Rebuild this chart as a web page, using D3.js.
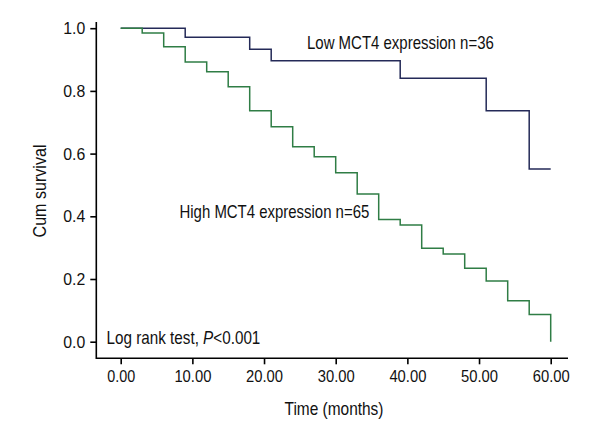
<!DOCTYPE html>
<html><head><meta charset="utf-8">
<script src="https://cdn.jsdelivr.net/npm/d3@7"></script>
<style>
html,body{margin:0;padding:0;background:#fff;}
text{font-family:"Liberation Sans",Arial,sans-serif;fill:#111;}
</style></head>
<body>
<svg id="chart" width="600" height="440"></svg>
<script>
// Data
const xTicks = [0, 10, 20, 30, 40, 50, 60];
const yTicks = [0.0, 0.2, 0.4, 0.6, 0.8, 1.0];
const lowTimes  = [0, 9, 18, 21, 39, 51, 57, 60];
const lowSurv   = [1.0, 0.971, 0.933, 0.896, 0.840, 0.737, 0.551, 0.551];
const highTimes = [0, 3, 6, 9, 12, 15, 18, 21, 24, 27, 30, 33, 36, 39, 42, 45, 48, 51, 54, 57, 60];
const highSurv  = [1.0, 0.985, 0.941, 0.892, 0.861, 0.813, 0.737, 0.686, 0.622, 0.590, 0.539, 0.471, 0.390, 0.372, 0.298, 0.280, 0.234, 0.194, 0.131, 0.087, 0.0];
const lowLabel = "Low MCT4 expression n=36";
const highLabel = "High MCT4 expression n=65";

const svg = d3.select("#chart");
const x = d3.scaleLinear().domain([0, 60]).range([120.7, 550.7]);
const y = d3.scaleLinear().domain([0, 1]).range([341.7, 28.2]);
const xAxisY = 358.3, yAxisX = 96.3;
const FS = "18px", TFS = "17px";

// horizontal squeeze helper (condensed look)
function squeeze(node, target) {
  const w = node.getComputedTextLength ? node.getComputedTextLength() : node.getBBox().width;
  const s = target / w;
  const ax = +node.getAttribute("x") || 0;
  const prev = node.getAttribute("transform") || "";
  node.setAttribute("transform", `${prev} translate(${ax},0) scale(${s},1) translate(${-ax},0)`);
  return s;
}

// axes lines
svg.append("line").attr("x1", yAxisX).attr("x2", yAxisX).attr("y1", 22).attr("y2", xAxisY + 0.7)
  .attr("stroke", "#000").attr("stroke-width", 1.6);
svg.append("line").attr("x1", yAxisX).attr("x2", 568).attr("y1", xAxisY).attr("y2", xAxisY)
  .attr("stroke", "#000").attr("stroke-width", 1.6);

// annotations
const lowT = svg.append("text").attr("x", 307).attr("y", 49).style("font-size", FS).text(lowLabel);
squeeze(lowT.node(), 187);
const highT = svg.append("text").attr("x", 179.5).attr("y", 218).style("font-size", FS).text(highLabel);
squeeze(highT.node(), 190);
const lr = svg.append("text").attr("x", 106.5).attr("y", 344).style("font-size", FS);
lr.append("tspan").text("Log rank test, ");
lr.append("tspan").style("font-style", "italic").text("P");
lr.append("tspan").text("<0.001");
squeeze(lr.node(), 154);

const xAxis = d3.axisBottom(x).tickValues(xTicks).tickSize(6).tickPadding(6).tickFormat(d3.format(".2f"));
const gx = svg.append("g").attr("transform", `translate(0,${xAxisY})`).call(xAxis);
gx.select(".domain").remove();
gx.selectAll("line").attr("stroke", "#000").attr("stroke-width", 1.6);
gx.selectAll("text").style("font-size", TFS).attr("fill", "#111").each(function(d) {
  const target = d === 0 ? 28 : 37;
  const w = this.getComputedTextLength();
  this.setAttribute("transform", `scale(${target / w},1)`);
});

const yAxis = d3.axisLeft(y).tickValues(yTicks).tickSize(6).tickPadding(5).tickFormat(d3.format(".1f"));
const gy = svg.append("g").attr("transform", `translate(${yAxisX},0)`).call(yAxis);
gy.select(".domain").remove();
gy.selectAll("line").attr("stroke", "#000").attr("stroke-width", 1.6);
gy.selectAll("text").style("font-size", TFS).attr("fill", "#111").each(function() {
  squeeze(this, 22);
});

// step curves
function stepPath(times, surv) {
  const pts = times.map((t, i) => [t, surv[i]]);
  return d3.line().x(d => x(d[0])).y(d => y(d[1])).curve(d3.curveStepAfter)(pts);
}
svg.append("path").attr("d", stepPath(lowTimes, lowSurv))
  .attr("fill", "none").attr("stroke", "#242a58").attr("stroke-width", 1.5);
svg.append("path").attr("d", stepPath(highTimes, highSurv))
  .attr("fill", "none").attr("stroke", "#2f7d45").attr("stroke-width", 1.5);

// axis titles
const tt = svg.append("text").attr("x", 334).attr("y", 415).attr("text-anchor", "middle").style("font-size", FS).text("Time (months)");
squeeze(tt.node(), 99);
const yt = svg.append("text").attr("transform", "translate(46,191) rotate(-90)").attr("x", 0).attr("y", 0)
  .attr("text-anchor", "middle").style("font-size", FS).text("Cum survival");
squeeze(yt.node(), 93);
</script>
</body></html>
